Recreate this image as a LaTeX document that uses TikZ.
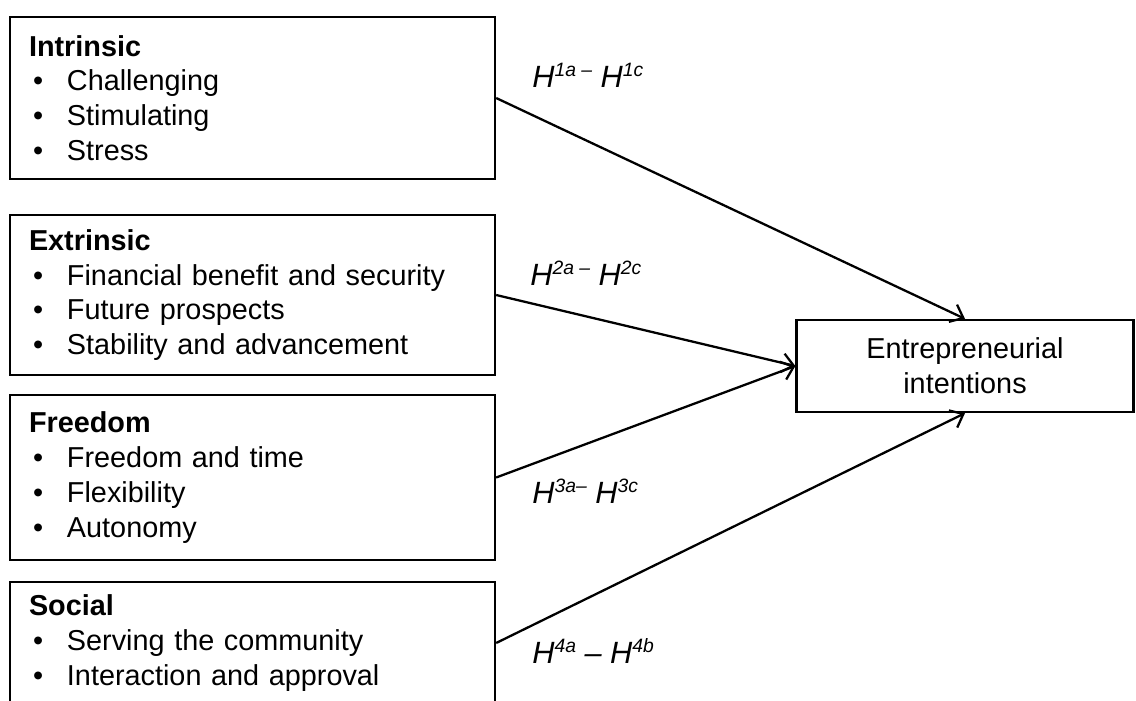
\documentclass[tikz,border=0pt]{standalone}
\usepackage{fontspec}
\setmainfont{Liberation Sans}
\usetikzlibrary{arrows.meta}
\tikzset{
  every picture/.style={>={Straight Barb[length=2.3mm,width=3.8mm]},
    font=\fontsize{16.4}{19.8}\selectfont},
  factor/.style={draw, line width=1.3pt, align=left, text width=8.94cm, inner xsep=0.38cm},
  outcome/.style={draw, line width=1.3pt, align=center, minimum width=6.74cm, minimum height=1.84cm},
  hyparrow/.style={->, line width=1.3pt},
  hyplabel/.style={anchor=base west, inner sep=0pt, font=\fontsize{17.5}{20}\selectfont\itshape},
}
\newcommand{\itm}[1]{\makebox[0.76cm][l]{\hspace{0.08cm}\textbullet}#1}
\newcommand{\sps}[1]{\raisebox{6.2pt}{\fontsize{11}{12}\selectfont #1}}

\begin{document}
\begin{tikzpicture}
  \useasboundingbox (0,0) rectangle (22.72,-14);
  \clip (0,0) rectangle (22.72,-14);
  % motivation factors
  \node[factor, minimum height=3.24cm] (intr) at (5.05,-1.96)
    {\textbf{Intrinsic}\\ \itm{Challenging}\\ \itm{Stimulating}\\ \itm{Stress}};
  \node[factor, minimum height=3.2cm] (extr) at (5.05,-5.90)
    {\textbf{Extrinsic}\\ \itm{Financial benefit and security}\\ \itm{Future prospects}\\ \itm{Stability and advancement}};
  \node[factor, minimum height=3.3cm] (free) at (5.05,-9.55)
    {\textbf{Freedom}\\ \itm{Freedom and time}\\ \itm{Flexibility}\\ \itm{Autonomy}};
  \node[factor, minimum height=2.44cm] (soc) at (5.05,-12.86)
    {\textbf{Social}\\ \itm{Serving the community}\\ \itm{Interaction and approval}};
  % outcome
  \node[outcome] (ei) at (19.30,-7.32) {Entrepreneurial\\intentions};
  \draw[hyparrow] (intr.east) -- (ei.north);
  \draw[hyparrow] (extr.east) -- (ei.west);
  \draw[hyparrow] (free.east) -- (ei.west);
  \draw[hyparrow] (soc.east) -- (ei.south);
  % hypotheses
  \node[hyplabel] (h1) at (10.64,-1.74) {H\sps{1a --} H\sps{1c}};
  \node[hyplabel] (h2) at (10.60,-5.70) {H\sps{2a --} H\sps{2c}};
  \node[hyplabel] (h3) at (10.64,-10.06) {H\sps{3a--} H\sps{3c}};
  \node[hyplabel] (h4) at (10.64,-13.26) {H\sps{4a} -- H\sps{4b}};
\end{tikzpicture}
\end{document}
